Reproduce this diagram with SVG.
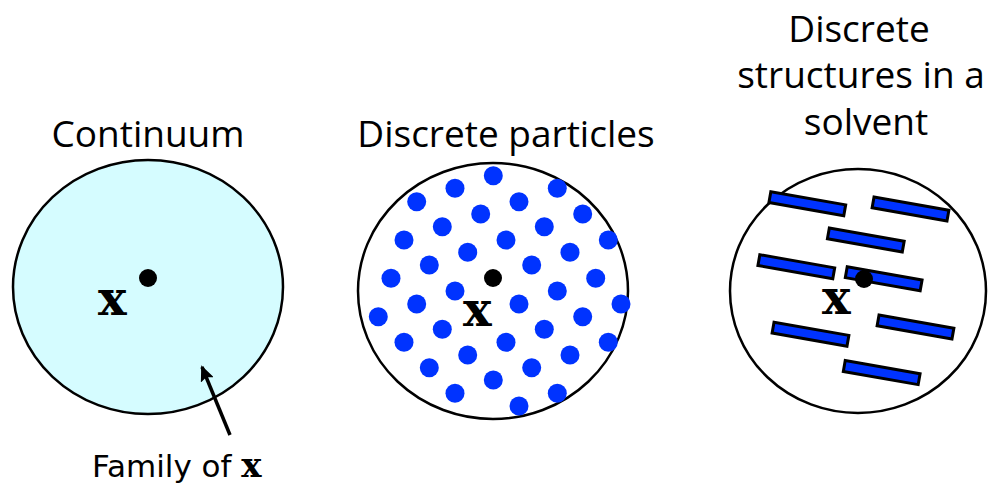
<svg xmlns="http://www.w3.org/2000/svg" width="988" height="488" viewBox="0 0 988 488">
<style>
.title{font-family:"Open Sans","Liberation Sans",sans-serif;font-size:37px;fill:#000;text-anchor:middle}
.boundary{stroke:#000;stroke-width:2.5}
.pt{fill:#000}
.bx{font-family:"DejaVu Serif","Liberation Serif",serif;font-weight:bold;font-size:48px;fill:#000}
.p{fill:#0033FF}
.bar{fill:#0033FF;stroke:#000;stroke-width:3}
</style>
<defs>
<marker id="ah" markerWidth="16" markerHeight="14" refX="14" refY="7" orient="auto" markerUnits="userSpaceOnUse" viewBox="0 0 16 14">
<path d="M0,0 L16,7 L0,14 L3,7 Z" fill="#000"/>
</marker>
</defs>
<rect width="988" height="488" fill="#fff"/>

<g id="continuum">
<text class="title" x="148" y="147">Continuum</text>
<ellipse class="boundary" cx="148" cy="287" rx="135" ry="127" fill="#D5FCFF"/>
<circle class="pt" cx="148" cy="278" r="9"/>
<text class="bx" x="98" y="315">x</text>
</g>

<g id="particles">
<text class="title" x="506" y="147">Discrete particles</text>
<ellipse class="boundary" cx="493" cy="291" rx="135" ry="128" fill="#fff"/>
<g class="p">
<circle cx="493.3" cy="175.7" r="9.5"/><circle cx="455" cy="188.3" r="9.5"/><circle cx="416.7" cy="201.7" r="9.5"/>
<circle cx="557.3" cy="188.3" r="9.5"/><circle cx="519" cy="201.7" r="9.5"/><circle cx="480.7" cy="214" r="9.5"/>
<circle cx="582.7" cy="214" r="9.5"/><circle cx="442.3" cy="226.7" r="9.5"/><circle cx="544.3" cy="226.7" r="9.5"/>
<circle cx="404" cy="240" r="9.5"/><circle cx="506" cy="240" r="9.5"/><circle cx="608.3" cy="240" r="9.5"/>
<circle cx="467.7" cy="252.3" r="9.5"/><circle cx="570" cy="252.3" r="9.5"/><circle cx="429.3" cy="265" r="9.5"/>
<circle cx="531.7" cy="265" r="9.5"/><circle cx="391" cy="278.3" r="9.5"/><circle cx="595.7" cy="278.3" r="9.5"/>
<circle cx="455" cy="291" r="9.5"/><circle cx="557.3" cy="291" r="9.5"/><circle cx="416.7" cy="304" r="9.5"/>
<circle cx="519" cy="304" r="9.5"/><circle cx="621" cy="304" r="9.5"/><circle cx="378.3" cy="316.7" r="9.5"/>
<circle cx="582.7" cy="316.7" r="9.5"/><circle cx="442.3" cy="329.3" r="9.5"/><circle cx="544.3" cy="329.3" r="9.5"/>
<circle cx="404" cy="342.3" r="9.5"/><circle cx="506" cy="342.3" r="9.5"/><circle cx="608.3" cy="342.3" r="9.5"/>
<circle cx="467.7" cy="355" r="9.5"/><circle cx="570" cy="355" r="9.5"/><circle cx="429.3" cy="367.7" r="9.5"/>
<circle cx="531.7" cy="367.7" r="9.5"/><circle cx="493.3" cy="380" r="9.5"/><circle cx="455" cy="393.3" r="9.5"/>
<circle cx="557.3" cy="393.3" r="9.5"/><circle cx="519" cy="406" r="9.5"/>
</g>
<circle class="pt" cx="493" cy="278" r="9"/>
<text class="bx" x="463" y="326">x</text>
</g>

<g id="solvent">
<text class="title" x="859" y="42">Discrete</text>
<text class="title" x="861" y="88">structures in a</text>
<text class="title" x="866" y="135">solvent</text>
<ellipse class="boundary" cx="858" cy="291" rx="128" ry="122" fill="#fff"/>
<g class="bar">
<rect x="-38" y="-5.5" width="76" height="11" transform="translate(807.3,203.7) rotate(10)"/>
<rect x="-38" y="-5.5" width="76" height="11" transform="translate(910.5,209) rotate(10)"/>
<rect x="-38" y="-5.5" width="76" height="11" transform="translate(865.8,240) rotate(10)"/>
<rect x="-38" y="-5.5" width="76" height="11" transform="translate(796.3,266.7) rotate(10)"/>
<rect x="-38" y="-5.5" width="76" height="11" transform="translate(883.7,278.8) rotate(10)"/>
<rect x="-38" y="-5.5" width="76" height="11" transform="translate(915.5,327) rotate(10)"/>
<rect x="-38" y="-5.5" width="76" height="11" transform="translate(810.5,334.2) rotate(10)"/>
<rect x="-38" y="-5.5" width="76" height="11" transform="translate(881.7,372.6) rotate(10)"/>
</g>
<circle class="pt" cx="864" cy="279" r="9"/>
<text class="bx" x="822" y="314">x</text>
</g>

<g id="family-label">
<text x="92" y="477" style="font-family:'DejaVu Sans','Liberation Sans',sans-serif;font-size:31px;fill:#000">Family of <tspan style="font-family:'DejaVu Serif',serif;font-weight:bold;font-size:34px">x</tspan></text>
</g>

<g id="connectors">
<line x1="230" y1="435" x2="202" y2="367" stroke="#000" stroke-width="3.5" marker-end="url(#ah)"/>
</g>
</svg>
